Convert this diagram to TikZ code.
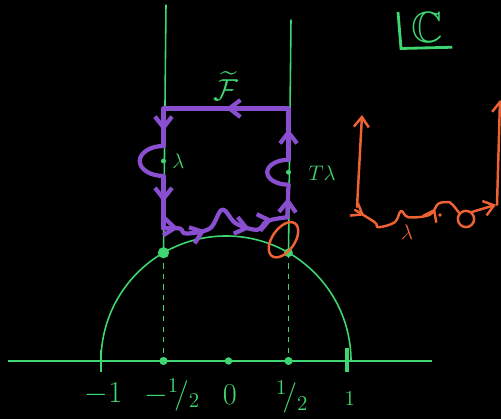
\documentclass[tikz,border=0pt]{standalone}
\usepackage{amsmath,amssymb}
\usepackage{tikz}
\usetikzlibrary{arrows.meta,decorations.markings}
\definecolor{chalkgreen}{RGB}{62,214,112}
\definecolor{chalkpurple}{RGB}{138,78,208}
\definecolor{chalkorange}{RGB}{238,98,52}
\tikzset{
  green line/.style={chalkgreen,line width=0.9pt},
  contour/.style={chalkpurple,line width=2.4pt,line cap=round,line join=round},
  sketch/.style={chalkorange,line width=1.4pt,line cap=round,line join=round},
  midarrow/.style={postaction={decorate},decoration={markings,
    mark=at position #1 with {\arrow{Straight Barb[length=2.2mm,width=3.4mm]}}}},
}

\begin{document}
\begin{tikzpicture}[x=2.5cm,y=2.5cm,font=\LARGE]
\fill[black] (-1.808,-0.464) rectangle (2.2,2.888);
\useasboundingbox (-1.808,-0.464) rectangle (2.2,2.888);

% real axis with ticks
\draw[green line] (-1.744,0) -- (1.648,0);
\draw[green line] (-1,-0.09) -- (-1,0.09);
\draw[chalkgreen,line width=2pt] (0.97,-0.09) -- (0.97,0.1);
\draw[chalkgreen,line width=1.4pt] (-0.5,0) circle (0.022);
\draw[chalkgreen,line width=1.4pt] (0.5,0) circle (0.022);
\fill[chalkgreen] (0.02,0) circle (0.03);
\node[chalkgreen] (lm1) at (-0.98,-0.26) {$-1$};
\node[chalkgreen] (lmh) at (-0.43,-0.27) {$-{}^{1}\!/_{2}$};
\node[chalkgreen] (l0) at (0.03,-0.27) {$0$};
\node[chalkgreen] (lh) at (0.53,-0.29) {${}^{1}\!/_{2}$};
\node[chalkgreen,font=\large] (l1) at (0.99,-0.3) {$1$};

% unit circle and the strip
\draw[green line] (1,0) arc[start angle=0,end angle=180,radius=1];
\coordinate (rhoL) at (-0.5,0.866);
\coordinate (rhoR) at (0.5,0.866);
\fill[chalkgreen] (rhoL) circle (0.045);
\fill[chalkgreen] (rhoR) circle (0.035);
\draw[green line,dash pattern=on 3pt off 3pt] (rhoL) -- (-0.5,0);
\draw[green line,dash pattern=on 3pt off 3pt] (rhoR) -- (0.5,0);
\draw[green line] (rhoL) -- (-0.48,2.85);
\draw[green line] (rhoR) -- (0.52,2.73);
\draw[sketch] (0.46,0.97) ellipse[x radius=0.16,y radius=0.09,rotate=55];

% contour around the fundamental domain
\coordinate (tr) at (0.5,2.02);
\coordinate (tl) at (-0.5,2.02);
\coordinate (bl) at (-0.5,1.06);
\coordinate (br) at (0.49,1.15);
\draw[contour,midarrow=0.5] (tr) -- (tl);
\draw[contour,midarrow=0.6] (tl) -- (-0.5,1.72);
\draw[contour] (-0.5,1.72) arc[start angle=90,end angle=270,x radius=0.19,y radius=0.12];
\draw[contour,midarrow=0.5] (-0.5,1.48) -- (bl);
\draw[contour,postaction={decorate},decoration={markings,
    mark=at position 0.1 with {\arrow{Straight Barb[length=2.2mm,width=3.4mm]}},
    mark=at position 0.3 with {\arrow{Straight Barb[length=2.2mm,width=3.4mm]}},
    mark=at position 0.72 with {\arrow{Straight Barb[length=2.2mm,width=3.4mm]}},
    mark=at position 0.9 with {\arrow{Straight Barb[length=2.2mm,width=3.4mm]}}}]
  plot[smooth,tension=0.6] coordinates {(bl) (-0.37,1.06) (-0.32,1.02) (-0.13,1.06)
    (-0.03,1.21) (0.08,1.1) (0.25,1.05) (0.33,1.12) (br)};
\draw[contour,midarrow=0.6] (br) -- (0.5,1.41);
\draw[contour] (0.5,1.41) arc[start angle=-90,end angle=-270,x radius=0.17,y radius=0.1];
\draw[contour,midarrow=0.6] (0.5,1.61) -- (tr);
\fill[chalkgreen] (-0.5,1.6) circle (0.02);
\fill[chalkgreen] (0.5,1.51) circle (0.02);
\node[chalkgreen,font=\large] (lam) at (-0.38,1.6) {$\lambda$};
\node[chalkgreen,font=\large] (tlam) at (0.77,1.5) {$T\lambda$};
\node[chalkgreen] (domain) at (0,2.2) {$\widetilde{\mathcal{F}}$};

% the plane
\draw[chalkgreen,line width=1.6pt] (1.376,2.792) -- (1.4,2.5) -- (1.81,2.51);
\node[chalkgreen,font=\Huge] (plane) at (1.61,2.67) {$\mathbb{C}$};

% the image of the contour
\draw[sketch,-{Straight Barb[length=2mm,width=3mm]}] (1.048,1.232) -- (1.088,1.968);
\draw[sketch,-{Straight Barb[length=2mm,width=3mm]}] (2.168,1.248) -- (2.192,2.088);
\draw[sketch,postaction={decorate},decoration={markings,
    mark=at position 0.09 with {\arrow{Straight Barb[length=2mm,width=3mm]}},
    mark=at position 0.85 with {\arrow{Straight Barb[length=2mm,width=3mm]}}}]
  plot[smooth,tension=0.6] coordinates {(1.032,1.208) (1.19,1.11) (1.22,1.07)
    (1.35,1.11) (1.4,1.2) (1.46,1.15) (1.63,1.17) (1.7,1.26) (1.79,1.27)};
\draw[sketch] (1.79,1.27) .. controls (1.83,1.24) and (1.85,1.2) .. (1.87,1.18);
\draw[sketch] (1.92,1.136) circle (0.065);
\draw[sketch,-{Straight Barb[length=2mm,width=3mm]}] (1.96,1.19) -- (2.16,1.25);
\fill[chalkorange] (1.712,1.168) circle (0.015);
\node[chalkorange,font=\large] (lamimg) at (1.45,1.03) {$\lambda$};
\end{tikzpicture}
\end{document}
